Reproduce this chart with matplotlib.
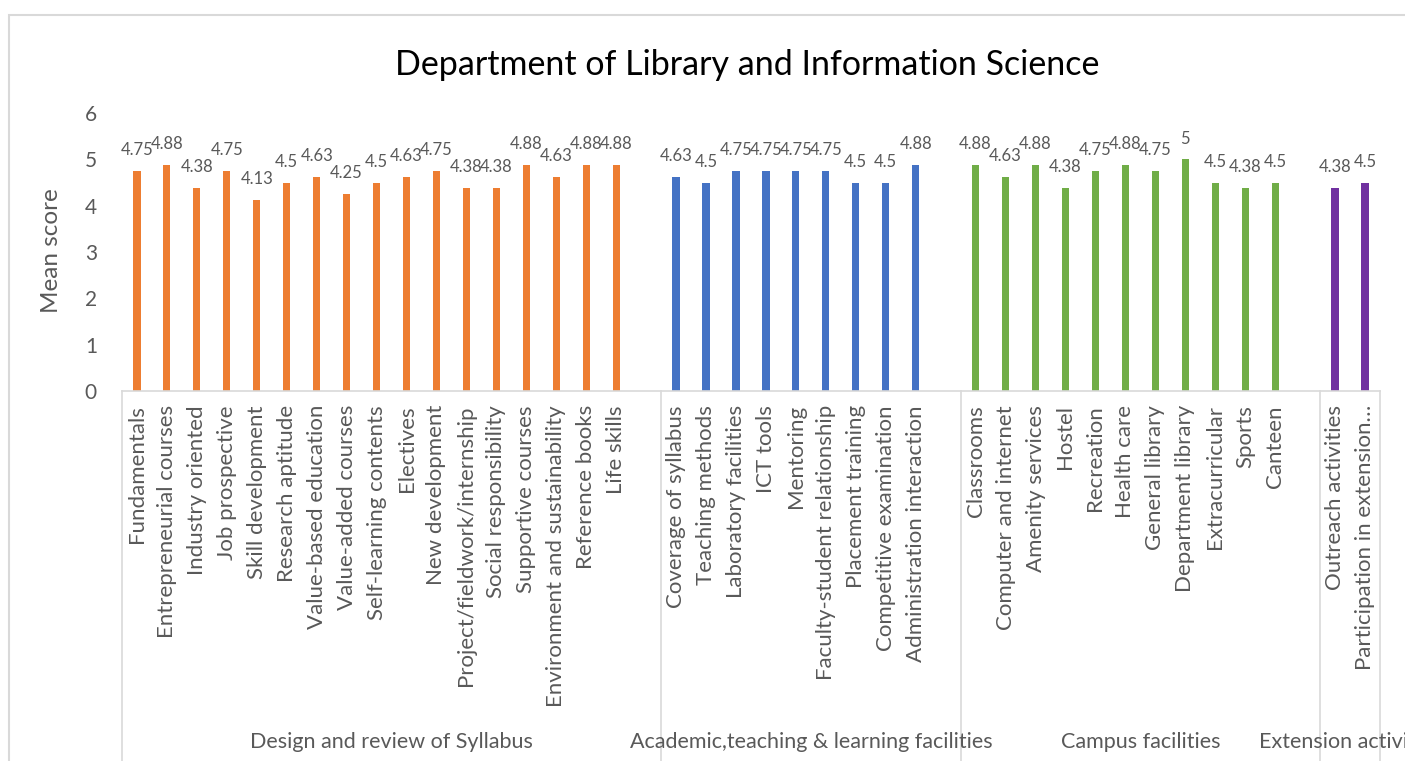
import matplotlib
matplotlib.use("Agg")
from matplotlib import pyplot as plt
from matplotlib.patches import Rectangle
import matplotlib.transforms as mtransforms

plt.rcParams['font.family'] = ['Lato', 'DejaVu Sans']

TITLE = "Department of Library and Information Science"
Y_LABEL = "Mean score"

group_names = ["Design and review of Syllabus",
               "Academic,teaching & learning facilities",
               "Campus facilities",
               "Extension activities"]

syllabus_items = ["Fundamentals", "Entrepreneurial courses", "Industry oriented",
                  "Job prospective", "Skill development", "Research aptitude",
                  "Value-based education", "Value-added courses",
                  "Self-learning contents", "Electives", "New development",
                  "Project/fieldwork/internship", "Social responsibility",
                  "Supportive courses", "Environment and sustainability",
                  "Reference books", "Life skills"]
syllabus_scores = [4.75, 4.88, 4.38, 4.75, 4.13, 4.5, 4.63, 4.25, 4.5, 4.63,
                   4.75, 4.38, 4.38, 4.88, 4.63, 4.88, 4.88]

academic_items = ["Coverage of syllabus", "Teaching methods", "Laboratory facilities",
                  "ICT tools", "Mentoring", "Faculty-student relationship",
                  "Placement training", "Competitive examination",
                  "Administration interaction"]
academic_scores = [4.63, 4.5, 4.75, 4.75, 4.75, 4.75, 4.5, 4.5, 4.88]

campus_items = ["Classrooms", "Computer and internet", "Amenity services", "Hostel",
                "Recreation", "Health care", "General library", "Department library",
                "Extracurricular", "Sports", "Canteen"]
campus_scores = [4.88, 4.63, 4.88, 4.38, 4.75, 4.88, 4.75, 5, 4.5, 4.38, 4.5]

extension_items = ["Outreach activities", "Participation in extension\u2026"]
extension_scores = [4.38, 4.5]

group_colors = ["#ED7D31", "#4472C4", "#70AD47", "#7030A0"]

groups = [(syllabus_items, syllabus_scores),
          (academic_items, academic_scores),
          (campus_items, campus_scores),
          (extension_items, extension_scores)]

GRAY = "#595959"
LINE = "#D9D9D9"

fig = plt.figure(figsize=(14.05, 7.61), dpi=100)
ax = fig.add_axes([0.0868, 0.486, 0.8954, 0.3655])

# outer chart border (cropped at right/bottom like the screenshot)
fig.patches.append(Rectangle((9 / 1405, -0.1), 1.2, 1 - 15 / 761 + 0.1,
                             transform=fig.transFigure, fill=False,
                             edgecolor=LINE, lw=1.5, zorder=0))

ticks, tick_labels = [], []
bounds = [-0.5]
pos = 0
for (items, scores), name, color in zip(groups, group_names, group_colors):
    xs = list(range(pos, pos + len(items)))
    ax.bar(xs, scores, width=0.24, color=color, zorder=2)
    for x, v in zip(xs, scores):
        ax.annotate(f"{v:g}", (x, v), xytext=(0, 15), textcoords="offset points",
                    ha="center", va="center", fontsize=12, color=GRAY)
    ticks += xs
    tick_labels += items
    end = pos + len(items)
    # empty slot between groups
    right = end + 0.5 if name != group_names[-1] else end - 0.5
    left = bounds[-1]
    bounds.append(right)
    ax.text((left + right) / 2, 1 - 742 / 761, name,
            transform=mtransforms.blended_transform_factory(ax.transData, fig.transFigure),
            ha="center", va="center", fontsize=15.5, color=GRAY, clip_on=False)
    pos = end + 1

trans = mtransforms.blended_transform_factory(ax.transData, ax.transAxes)
for b in bounds:
    ax.plot([b, b], [0, -1.5], transform=trans, color=LINE, lw=1.2, clip_on=False)

ax.set_xlim(-0.5, bounds[-1])
ax.set_ylim(0, 6)
ax.set_yticks(range(0, 7))
ax.set_xticks(ticks)
ax.set_xticklabels(tick_labels, rotation=90, va="top", ha="center",
                   fontsize=16, color=GRAY)
ax.tick_params(axis="x", length=0, pad=10)
ax.tick_params(axis="y", length=0, pad=18, labelsize=15, labelcolor=GRAY)

for side in ["top", "right", "left"]:
    ax.spines[side].set_visible(False)
ax.spines["bottom"].set_color(LINE)
ax.spines["bottom"].set_linewidth(1.2)

ax.set_ylabel(Y_LABEL, fontsize=17.5, color=GRAY)
ax.yaxis.set_label_coords(-0.048, 0.507)

fig.text(0.532, 1 - 65 / 761, TITLE, ha="center", va="center",
         fontsize=24.5, color="black")

fig.savefig("out.png", dpi=100)
